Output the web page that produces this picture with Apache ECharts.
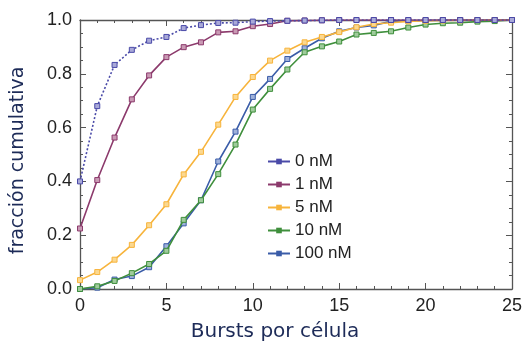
<!DOCTYPE html>
<html><head><meta charset="utf-8">
<script src="https://cdn.jsdelivr.net/npm/echarts@6/dist/echarts.min.js"></script>
<style>html,body{margin:0;padding:0;background:#fff}#c{width:525px;height:347px}</style>
</head><body><div id="c"></div>
<script>
const xValues = [0,1,2,3,4,5,6,7,8,9,10,11,12,13,14,15,16,17,18,19,20,21,22,23,24,25];
const seriesNames = ['0 nM','1 nM','5 nM','10 nM','100 nM'];
const nM0   = [0.40,0.68,0.833,0.889,0.923,0.937,0.970,0.981,0.989,0.990,0.994,0.996,0.997,0.998,0.999,1,1,1,1,1,1,1,1,1,1,1];
const nM1   = [0.225,0.405,0.563,0.705,0.794,0.862,0.899,0.917,0.954,0.958,0.977,0.985,0.997,0.998,0.999,1,1,1,1,1,1,1,1,1,1,1];
const nM5   = [0.033,0.063,0.109,0.164,0.237,0.315,0.426,0.510,0.611,0.714,0.788,0.849,0.886,0.917,0.937,0.955,0.973,0.985,0.990,0.995,0.997,0.998,0.999,1,1,1];
const nM10  = [0.0,0.01,0.03,0.059,0.093,0.142,0.257,0.330,0.427,0.537,0.667,0.744,0.816,0.880,0.902,0.920,0.946,0.952,0.958,0.972,0.983,0.988,0.990,0.994,0.996,1.0];
const nM100 = [0.0,0.005,0.035,0.048,0.081,0.159,0.244,0.330,0.474,0.585,0.714,0.781,0.855,0.895,0.932,0.958,0.972,0.980,0.995,0.997,0.998,0.999,1,1,1,1];
const xTickLabels = ['0','5','10','15','20','25'];
const yTickLabels = ['0.0','0.2','0.4','0.6','0.8','1.0'];

const colors = ['#4a4aa8','#8c3a6c','#f7b43c','#3f8f3c','#3a5ca8'];
const fills  = ['#a9a9d8','#c99ab4','#fbd890','#9fcb9c','#9fb1da'];
const allData = [nM0,nM1,nM5,nM10,nM100];

const chart = echarts.init(document.getElementById('c'), null, {renderer:'canvas'});
const axisLineStyle = {color:'#555', width:1.3};
function xAx(pos, show){
  return {type:'value', position:pos, min:0, max:25, interval:5,
    axisLine:{show:true, onZero:false, lineStyle:axisLineStyle},
    axisTick:{show:true, inside:true, length:6, lineStyle:{color:'#555'}},
    minorTick:{show:true, splitNumber:5, length:3, lineStyle:{color:'#555'}},
    splitLine:{show:false}, minorSplitLine:{show:false},
    axisLabel:{show:show, color:'#222', fontFamily:'Liberation Sans, Arial', fontSize:18, margin:8,
      formatter:v=>xTickLabels[Math.round(v/5)]},
    name: show ? 'Bursts por célula' : '', nameLocation:'middle', nameGap:33,
    nameTextStyle:{color:'#1d2b58', fontFamily:'DejaVu Sans, Verdana', fontSize:20, padding:[0,42,0,0]}
  };
}
function yAx(pos, show){
  return {type:'value', position:pos, min:0, max:1, interval:0.2,
    axisLine:{show:true, onZero:false, lineStyle:axisLineStyle},
    axisTick:{show:true, inside:true, length:6, lineStyle:{color:'#555'}},
    minorTick:{show:true, splitNumber:4, length:3, lineStyle:{color:'#555'}},
    splitLine:{show:false}, minorSplitLine:{show:false},
    axisLabel:{show:show, color:'#222', fontFamily:'Liberation Sans, Arial', fontSize:18, margin:8,
      formatter:v=>yTickLabels[Math.round(v/0.2)]},
    name: show ? 'fracción cumulativa' : '', nameLocation:'middle', nameGap:52,
    nameTextStyle:{color:'#1d2b58', fontFamily:'DejaVu Sans, Verdana', fontSize:19, padding:[0,12,0,0]}
  };
}
const series = seriesNames.map((n,i)=>({
  name:n, type:'line', xAxisIndex:0, yAxisIndex:0,
  data: xValues.map((x,j)=>[x, allData[i][j]]),
  symbol:'rect', symbolSize:5, showSymbol:true,
  lineStyle:{color:colors[i], width:1.6, type: i===0 ? [2,2] : 'solid'},
  itemStyle:{color:fills[i], borderColor:colors[i], borderWidth:1},
  z: 10 - i,
  animation:false
}));
chart.setOption({
  animation:false,
  grid:{left:80, right:12, top:20, bottom:57},
  legend:{show:true, orient:'vertical', left:262, top:148, itemWidth:22, itemHeight:7, itemGap:6,
    data:seriesNames.map((n,i)=>({name:n, itemStyle:{color:colors[i], borderWidth:0}, lineStyle:{color:colors[i], type:'solid'}})),
    textStyle:{color:'#222', fontFamily:'Liberation Sans, Arial', fontSize:17}},
  xAxis:[xAx('bottom', true), xAx('top', false)],
  yAxis:[yAx('left', true), yAx('right', false)],
  series: series
});
</script></body></html>
